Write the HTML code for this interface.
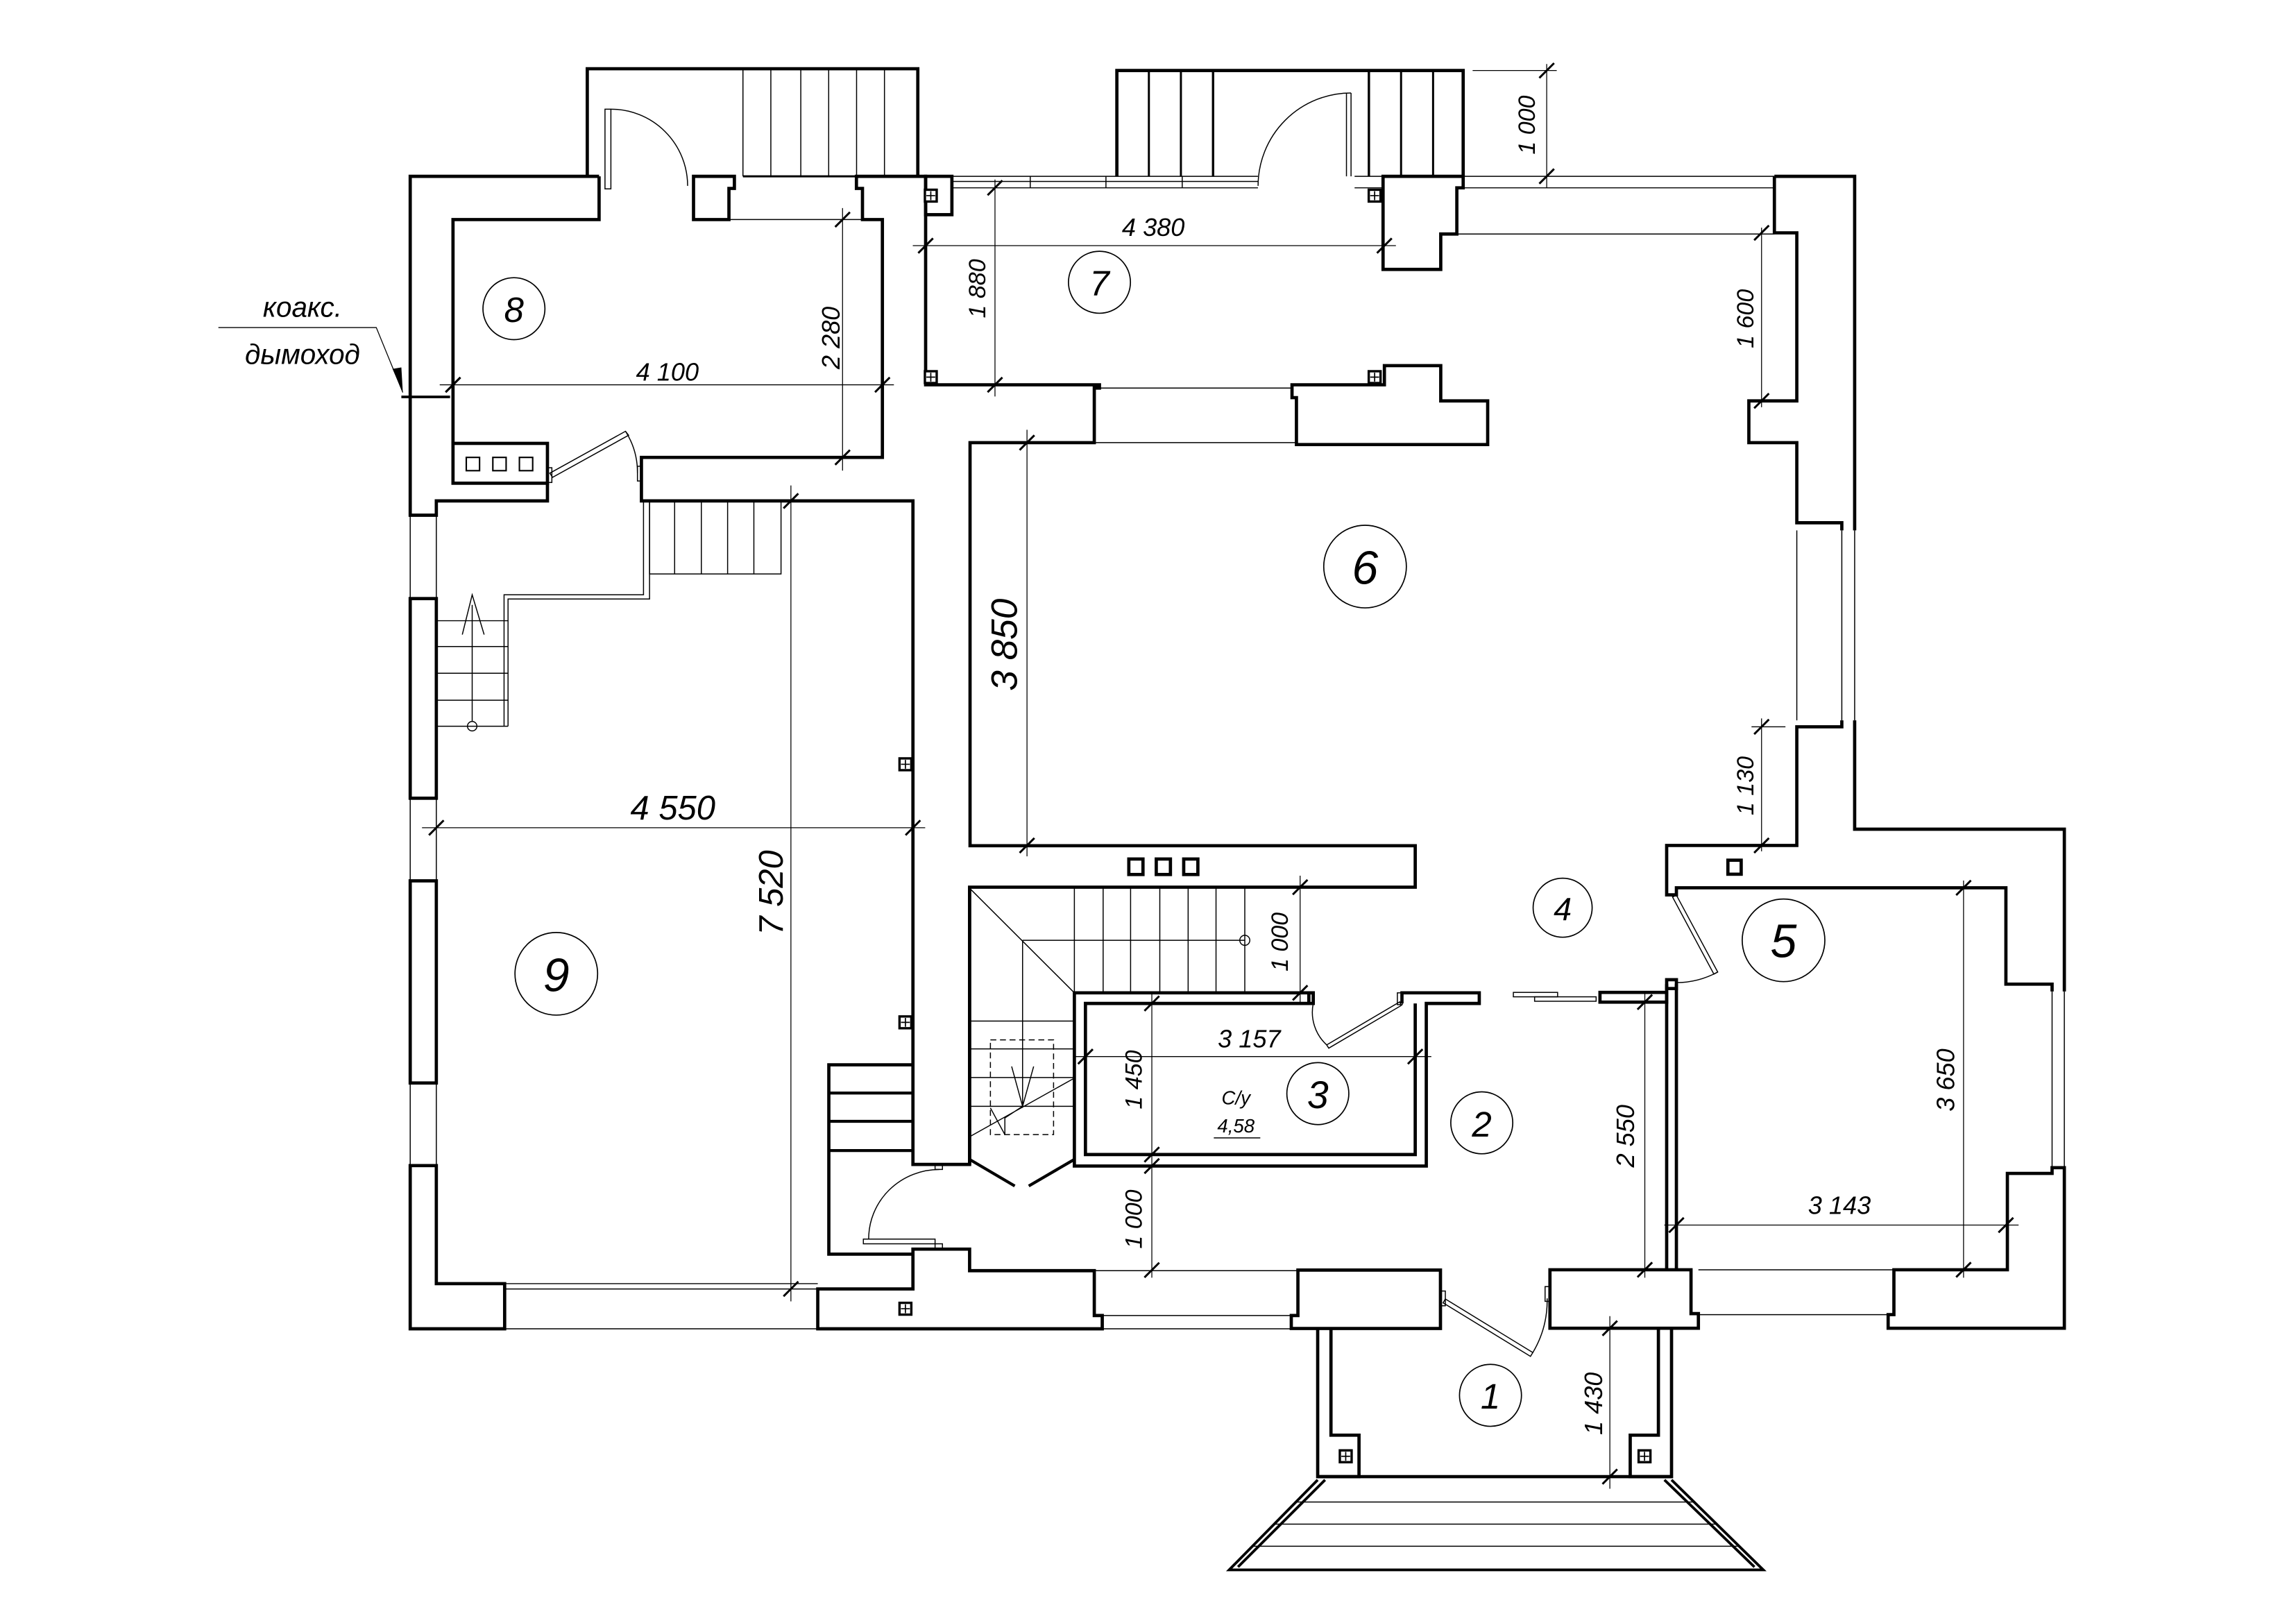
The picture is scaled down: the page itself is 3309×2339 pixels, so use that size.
<!DOCTYPE html>
<html><head><meta charset="utf-8"><style>
html,body{margin:0;padding:0;background:#fff;}
svg{display:block;}
text{font-family:"Liberation Sans","DejaVu Sans",sans-serif;font-style:italic;fill:#000;}
</style></head><body>
<svg width="3309" height="2339" viewBox="0 0 1556 1100" preserveAspectRatio="none" xmlns="http://www.w3.org/2000/svg">
<defs>
<g id="col"><rect x="-4" y="-4" width="8" height="8" fill="#fff" stroke="#000" stroke-width="1.6"/><path d="M0,-3V3M-3,0H3" stroke="#000" stroke-width="0.8"/></g>
<g id="tk"><line x1="-5" y1="5" x2="5" y2="-5" stroke="#000" stroke-width="1.4"/></g>
</defs>
<rect width="1556" height="1100" fill="#fff"/>

<!-- THICK WALLS -->
<g fill="none" stroke="#000" stroke-width="2.2" stroke-linejoin="miter">
<!-- top-left porch -->
<path d="M398,119.5 V46.6 H622 V119.5"/>
<!-- room 8 -->
<path d="M406,119.5 H278 V349.2 H295.7 V339.5 H371 V327.5"/>
<path d="M406,119.5 V148.8 H307 V300.5"/>
<rect x="307" y="300.5" width="64" height="27"/>
<path d="M470,119.5 V148.8 H494 V127.7 H497.7 V119.5 Z"/>
<path d="M580.4,119.5 V127.7 H584.5 V148.8 H598 V310 H434.7 V339.5 H618.7 V789.2 H657.1 V601.3 H959.1 V573.2 H657.4 V300 H741.6 V263 H745.1 V260.8 H627.3 V119.5 Z"/>
<!-- gallery columns -->
<rect x="627.3" y="119.5" width="17.8" height="26"/>
<!-- top-middle porch -->
<path d="M756.9,119.5 V47.8 H991.6 V119.5"/>
<path d="M937.3,119.5 H991.6 V127.3 H987.3 V158.6 H976.4 V182.6 H937.3 Z"/>
<path d="M875.6,260.8 V269.5 H878.6 V301.3 H1008.2 V271.7 H976.4 V247.8 H938.2 V260.8 Z"/>
<!-- room 6 right -->
<path d="M1202.5,119.5 H1256.9 V359.5"/>
<path d="M1202.5,119.5 V157.8 H1217.7 V271.7 H1185.2 V300 H1217.7 V354.3 H1248.2 V359.5"/>
<path d="M1248.2,488.2 V492.6 H1217.7 V573 H1129.5 V606.5 H1136.1 V601.7 H1359.4 V667 H1390.7 V672"/>
<path d="M1256.9,488.2 V562 H1399 V672"/>
<path d="M1399,791.4 V900.2 H1279.6 V891 H1283.5 V860.6 H1360.4 V795.3 H1390.7 V791.4 Z"/>
<!-- room 2/5 wall -->
<path d="M1129.5,667 V860.6 M1136.1,667 V860.6"/>
<rect x="1129.5" y="664" width="6.6" height="6"/>
<rect x="1084.3" y="672.6" width="45.2" height="6.6"/>
<!-- toilet -->
<path d="M890.1,672.9 H728.1 V790.3 H966.6 V680.1 H1002.5 V672.9 H950.1 V680.1"/>
<path d="M887,680.1 H735.6 V782.5 H959.1 V680.1"/>
<rect x="887" y="672.9" width="3" height="7.2"/>
<!-- stair left wall -->
<path d="M657.1,601.3 V789.2"/>
<!-- outside steps & bottom left -->
<path d="M618.7,721.7 H561.7 V850 H618.7 V846.6 H657.1 V861.2 H741.6 V891.6 H747 V900.6 H554.2 V873.6 H618.7 V846.6"/>
<!-- bottom walls -->
<path d="M879.6,860.8 H976.2 V900.4 H875.1 V891.6 H879.6 Z"/>
<path d="M1050.4,860.6 H1146 V890.3 H1151 V900.2 H1050.4 Z"/>
<!-- porch 1 -->
<path d="M1123.9,900.2 V972.7 H1104.8 V1000.8 H1132.8 V900.2"/>
<path d="M902,900.2 V972.7 H921 V1000.8 H893 V900.2"/>
<path d="M893,1000.8 H1132.8"/>
<!-- room 9 left wall segments -->
<rect x="278" y="405.7" width="17.7" height="135.3"/>
<rect x="278" y="597" width="17.7" height="137"/>
<path d="M295.7,790 V870 H342 V900.6 H278 V790 Z"/>
<!-- room 6 bottom squares -->
<rect x="765" y="582.2" width="9.6" height="10.5"/>
<rect x="783.6" y="582.2" width="9.6" height="10.5"/>
<rect x="802.2" y="582.2" width="9.6" height="10.5"/>
<rect x="1171" y="583" width="9" height="9.5"/>
<!-- hearth flues -->
</g>
<g fill="none" stroke="#000" stroke-width="1">
<rect x="316" y="310" width="9" height="9"/><rect x="334" y="310" width="9" height="9"/><rect x="352" y="310" width="9" height="9"/>
</g>

<!-- THIN LINES -->
<g fill="none" stroke="#000" stroke-width="0.7">
<!-- porch stairs top-left -->
<path d="M503.5,46.6V119.5M522.4,46.6V119.5M542.7,46.6V119.5M561.6,46.6V119.5M580.5,46.6V119.5M599.4,46.6V119.5"/>
<path d="M503.5,119.5H622" stroke-width="1.4"/>
<path d="M494,148.8H584.5"/>
<!-- room 8 top door -->
<rect x="410" y="74" width="4" height="54"/>
<path d="M414,74 A52,52 0 0,1 466,126"/>
<!-- room 8 lower door -->
<path d="M372.6,320.7 L423.9,292.3 L426,295 L374.5,323.5 Z"/>
<path d="M423.9,292.3 A52,52 0 0,1 432,320.7"/>
<rect x="371" y="317" width="3" height="10"/><rect x="432" y="316" width="3" height="10"/>
<!-- top-middle porch stairs -->
<path d="M778.6,47.8V119.5M800.3,47.8V119.5M949.5,47.8V119.5M971.2,47.8V119.5" stroke-width="1.4"/>
<path d="M822.1,47.8V119.5M927.7,47.8V119.5" stroke-width="1.6"/>
<path d="M912.5,63V119.5M915.6,63V119.5"/>
<path d="M915.6,63 A63,63 0 0,0 852.6,126"/>
<!-- gallery glass -->
<path d="M645,119.5H852.5M645,123H852.5M645,127.3H852.5M698.2,119.5V127.3M749.5,119.5V127.3M801.2,119.5V127.3"/>
<path d="M918,119.5H937.3M918,127.3H937.3"/>
<!-- room 6 top window -->
<path d="M991.6,119.5H1202.5M991.6,127.3H1202.5M987.3,158.6H1202.5"/>
<path d="M745.1,263H875.6M741.6,300H878.6"/>
<!-- right window -->
<path d="M1217.7,359.5V488.2M1248.2,359.5V488.2M1256.9,359.5V488.2"/>
<path d="M1390.7,672V791.4M1399,672V791.4"/>
<!-- bottom windows -->
<path d="M747,891.6H875.1M747,900.6H875.1M741.6,861.2H879.6"/>
<path d="M1151,860.6H1283.5M1151,891H1283.5"/>
<path d="M342,870H554.2M342,873.6H554.2M342,900.6H554.2"/>
<!-- left windows -->
<path d="M278,349.2V405.7M295.7,349.2V405.7M278,541V597M295.7,541V597M278,734V790M295.7,734V790"/>
<!-- room 9 stairs -->
<rect x="440.2" y="339.6" width="89.1" height="49.4"/>
<path d="M457.2,339.6V389M475.3,339.6V389M493.1,339.6V389M510.9,339.6V389"/>
<path d="M436.1,339.6 V403.1 H341.6 V492.2 M440.2,339.6 V406 H344.3 V492.2"/>
<path d="M295.7,420.7H344.3M295.7,438.2H344.3M295.7,456.3H344.3M295.7,474.6H344.3M295.7,492.2H344.3"/>
<path d="M320,489V410M313.3,430.1L320,403.1L328.1,430.1"/>
<circle cx="320" cy="492.2" r="3.2"/>
<!-- main stair -->
<path d="M728.1,601.3V672.9M747.6,601.3V672.9M766.2,601.3V672.9M786,601.3V672.9M805.2,601.3V672.9M824.1,601.3V672.9M843.6,601.3V672.9"/>
<path d="M693,637.3H843.6M657.1,602L728.1,672.9M693,637.3V749.8"/>
<path d="M657.1,692H728.1M657.1,710.9H728.1M657.1,730.3H728.1M657.1,749.8H728.1"/>
<circle cx="843.6" cy="637.3" r="3.4"/>
<rect x="671.2" y="704.8" width="42.8" height="64.2" stroke-dasharray="4,2.5"/>
<path d="M685.6,722.8L693,749.8L700.5,722.8"/>
<path d="M657.7,770.1L728.1,730.7M671.2,750.9L681,769L681,757.7L693,749.8"/>
<path d="M657.1,785.8L687.7,803.8M728.1,785.8L697.2,803.8" stroke-width="2"/>
<!-- outside steps -->
<path d="M561.7,740.8H618.7M561.7,760H618.7M561.7,779.8H618.7" stroke-width="2"/>
<rect x="585.1" y="839.8" width="48.6" height="3.2"/>
<path d="M636.7,792.6 A48,47 0 0,0 588.7,839.8"/>
<rect x="633.7" y="789.2" width="5" height="3.4"/><rect x="633.7" y="843" width="5" height="3.6"/>
<!-- toilet door -->
<path d="M890,680 A30,30 0 0,0 899.1,708.2"/>
<path d="M899.1,708.2 L948.6,679 L949.6,681.5 L900.5,710.4 Z"/>
<rect x="947" y="672.9" width="3.3" height="8"/>
<!-- sliding doors -->
<rect x="1025.6" y="672.6" width="30" height="3"/>
<rect x="1040" y="675.6" width="41.7" height="3"/>
<!-- room 5 door -->
<path d="M1136.1,606.7 L1164.1,658.8 L1161.5,660.2 L1133.5,608 Z"/>
<path d="M1164.1,658.8 A60,60 0 0,1 1136.1,666"/>
<!-- entrance door -->
<path d="M979.5,880.4 L1038.8,916.7 L1037.2,919.3 L978,883 Z"/>
<path d="M1038.8,916.7 A69,69 0 0,0 1048.5,880"/>
<rect x="976.2" y="875" width="3.3" height="10"/><rect x="1047.1" y="872" width="3.3" height="10"/>
<!-- front steps -->
<path d="M893,1003 L833,1064 H1195 L1132.8,1003 M898,1003 L839,1062 M1128,1003 L1189,1062" stroke-width="1.8"/>
<path d="M878,1018H1148M863,1033H1163M848,1048H1178"/>
</g>

<!-- columns -->
<use href="#col" x="630.8" y="132.6"/><use href="#col" x="630.8" y="255.6"/>
<use href="#col" x="931.6" y="132.6"/><use href="#col" x="931.6" y="255.6"/>
<use href="#col" x="613.6" y="518"/><use href="#col" x="613.6" y="692.9"/>
<use href="#col" x="613.6" y="887"/>
<use href="#col" x="912" y="987"/><use href="#col" x="1114.5" y="987"/>

<!-- DIMENSION LINES -->
<g fill="none" stroke="#000" stroke-width="0.6">
<path d="M1048.2,43.4V127M998,47.8H1055"/>
<path d="M618.6,166.5H946"/>
<path d="M674.3,121.7V268.7"/>
<path d="M298,260.8H605.8"/>
<path d="M571,141V319"/>
<path d="M1193.8,154.3V276"/>
<path d="M1193.8,486.9V577M1187,492.6H1210"/>
<path d="M696,291.3V580.4"/>
<path d="M286,561H627"/>
<path d="M536,329V882"/>
<path d="M881.1,593.5V681.2"/>
<path d="M728,716.1H970"/>
<path d="M780.6,672.9V866"/>
<path d="M1114.7,672.6V866"/>
<path d="M1330.7,596.8V866"/>
<path d="M1127.9,830.3H1368"/>
<path d="M1091,892V1009"/>
<path d="M148,222H255L273,266"/>
<path d="M272,269H305" stroke-width="1.8"/>
</g>
<path d="M273,266 L266,250 L272,249 Z" fill="#000"/>
<g>
<use href="#tk" x="1048.2" y="47.8"/><use href="#tk" x="1048.2" y="119.5"/>
<use href="#tk" x="627.3" y="166.5"/><use href="#tk" x="938.2" y="166.5"/>
<use href="#tk" x="674.3" y="127.3"/><use href="#tk" x="674.3" y="260.8"/>
<use href="#tk" x="307" y="260.8"/><use href="#tk" x="598" y="260.8"/>
<use href="#tk" x="571" y="148.8"/><use href="#tk" x="571" y="310"/>
<use href="#tk" x="1193.8" y="157.8"/><use href="#tk" x="1193.8" y="271.7"/>
<use href="#tk" x="1193.8" y="492.6"/><use href="#tk" x="1193.8" y="573"/>
<use href="#tk" x="696" y="300"/><use href="#tk" x="696" y="573"/>
<use href="#tk" x="295.7" y="561"/><use href="#tk" x="618.7" y="561"/>
<use href="#tk" x="536" y="339.5"/><use href="#tk" x="536" y="873.6"/>
<use href="#tk" x="881.1" y="601.3"/><use href="#tk" x="881.1" y="672.9"/>
<use href="#tk" x="735.6" y="716.1"/><use href="#tk" x="959.1" y="716.1"/>
<use href="#tk" x="780.6" y="680.1"/><use href="#tk" x="780.6" y="782.5"/><use href="#tk" x="780.6" y="790.3"/>
<use href="#tk" x="780.6" y="860.8"/>
<use href="#tk" x="1114.7" y="679.2"/><use href="#tk" x="1114.7" y="860.6"/>
<use href="#tk" x="1330.7" y="601.7"/><use href="#tk" x="1330.7" y="860.6"/>
<use href="#tk" x="1136.1" y="830.3"/><use href="#tk" x="1359.4" y="830.3"/>
<use href="#tk" x="1091" y="900.2"/><use href="#tk" x="1091" y="1000.8"/>
<use href="#tk" x="307" y="260.8"/>
</g>

<!-- ROOM CIRCLES -->
<g fill="none" stroke="#000" stroke-width="0.8">
<circle cx="348.3" cy="209.2" r="21"/>
<circle cx="745.1" cy="191.3" r="21"/>
<circle cx="925.1" cy="384" r="28"/>
<circle cx="377" cy="660" r="28"/>
<circle cx="1059" cy="615.2" r="20"/>
<circle cx="1208.7" cy="637.3" r="28"/>
<circle cx="893.1" cy="741.2" r="21"/>
<circle cx="1004.2" cy="761" r="21"/>
<circle cx="1010.1" cy="945.7" r="21"/>
</g>
<g text-anchor="middle" dominant-baseline="central">
<text x="348.3" y="210" font-size="24">8</text>
<text x="745.1" y="192" font-size="24">7</text>
<text x="925.1" y="385" font-size="32">6</text>
<text x="377" y="661" font-size="32">9</text>
<text x="1059" y="616" font-size="22">4</text>
<text x="1208.7" y="638" font-size="32">5</text>
<text x="893.1" y="742" font-size="26">3</text>
<text x="1004.2" y="762" font-size="24">2</text>
<text x="1010.1" y="946.5" font-size="24">1</text>

<text x="781.6" y="154" font-size="17">4 380</text>
<text x="452.3" y="252" font-size="17">4 100</text>
<text x="846.6" y="704" font-size="17">3 157</text>
<text x="1246.6" y="817" font-size="17">3 143</text>
<text x="456" y="548" font-size="23">4 550</text>
<text transform="translate(1035,84.7) rotate(-90)" font-size="16">1 000</text>
<text transform="translate(662.5,195.6) rotate(-90)" font-size="16">1 880</text>
<text transform="translate(563,229) rotate(-90)" font-size="17">2 280</text>
<text transform="translate(1183,216) rotate(-90)" font-size="16">1 600</text>
<text transform="translate(1183,532.6) rotate(-90)" font-size="16">1 130</text>
<text transform="translate(680.8,437) rotate(-90)" font-size="25">3 850</text>
<text transform="translate(523,605) rotate(-90)" font-size="23">7 520</text>
<text transform="translate(867.5,638.4) rotate(-90)" font-size="16">1 000</text>
<text transform="translate(768.6,731.8) rotate(-90)" font-size="16">1 450</text>
<text transform="translate(768.6,826.3) rotate(-90)" font-size="16">1 000</text>
<text transform="translate(1101.5,770) rotate(-90)" font-size="17">2 550</text>
<text transform="translate(1318.5,732) rotate(-90)" font-size="17">3 650</text>
<text transform="translate(1080,951.3) rotate(-90)" font-size="17">1 430</text>
<text x="837.6" y="744" font-size="13">С/у</text>
<text x="837.6" y="763" font-size="13">4,58</text>
<text x="205" y="208" font-size="19">коакс.</text>
<text x="205" y="240" font-size="19">дымоход</text>
</g>
<path d="M822.6,771.2H854.1" stroke="#000" stroke-width="0.7"/>
</svg>
</body></html>
